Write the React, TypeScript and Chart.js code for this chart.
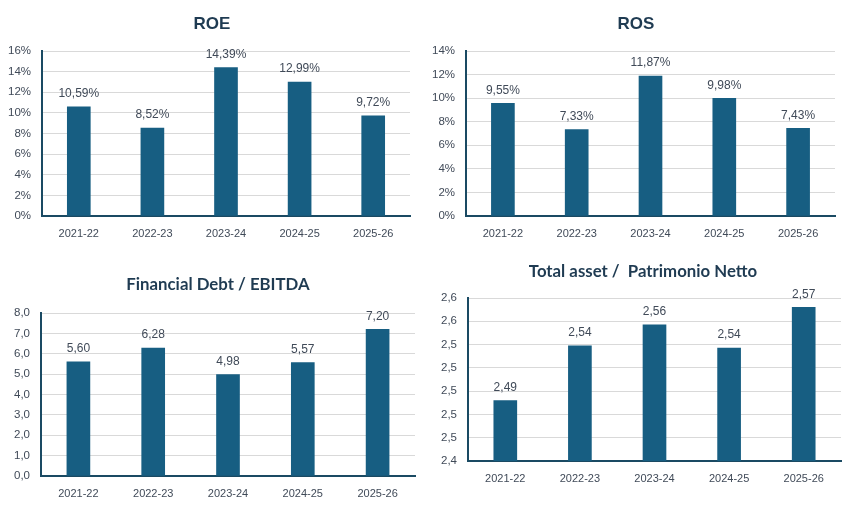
import { Chart, registerables } from 'chart.js'
import { useEffect, useRef } from 'react'

Chart.register(...registerables)

const years = ['2021-22', '2022-23', '2023-24', '2024-25', '2025-26']
const roeValues = [10.59, 8.52, 14.39, 12.99, 9.72]
const rosValues = [9.55, 7.33, 11.87, 9.98, 7.43]
const debtEbitdaValues = [5.6, 6.28, 4.98, 5.57, 7.2]
const assetEquityValues = [2.492, 2.539, 2.557, 2.537, 2.572]
// the last chart's axis steps by 0.02 but shows one decimal, as in the original
const assetEquityTicks = [2.44, 2.46, 2.48, 2.5, 2.52, 2.54, 2.56, 2.58]

const BAR = '#175E82'
const AXIS = '#1A4A63'
const TEXT = '#404A58'
const TITLE = '#1F3B52'

const comma = (v: number, d: number) => v.toFixed(d).replace('.', ',')

type PanelProps = {
  left: number
  top: number
  width: number
  height: number
  area: { l: number; r: number; t: number; b: number }
  title: string
  titleX: number
  titleY: number
  titleFont: string
  values: number[]
  yMin: number
  yMax: number
  step: number
  ticks?: number[]
  tickFmt: (v: number) => string
  valueFmt: (v: number) => string
}

function BarPanel(p: PanelProps) {
  const canvasRef = useRef<HTMLCanvasElement>(null)

  useEffect(() => {
    if (!canvasRef.current) return
    const ctx = canvasRef.current.getContext('2d')
    if (!ctx) return

    const chart = new Chart(ctx, {
      type: 'bar',
      data: {
        labels: years,
        datasets: [
          {
            data: p.values,
            backgroundColor: BAR,
            borderWidth: 0,
            barThickness: 23,
          },
        ],
      },
      options: {
        responsive: false,
        animation: false,
        events: [],
        layout: { padding: { left: 0, right: p.width - p.area.r, top: p.area.t, bottom: 0 } },
        plugins: {
          legend: { display: false },
          tooltip: { enabled: false },
          title: { display: false },
        },
        scales: {
          x: {
            grid: { display: false },
            border: { display: true, color: AXIS, width: 2 },
            ticks: { color: TEXT, font: { family: 'Liberation Sans', size: 11 }, padding: 3 },
            afterFit: (s: any) => {
              s.height = p.height - p.area.b
            },
          },
          y: {
            min: p.yMin,
            max: p.yMax,
            grid: { color: '#D9D9D9', lineWidth: 1, drawTicks: false },
            border: { display: true, color: AXIS, width: 2 },
            ticks: {
              stepSize: p.step,
              autoSkip: false,
              color: TEXT,
              font: { family: 'Liberation Sans', size: 11.5 },
              padding: 11,
              callback: (v: any) => p.tickFmt(Number(v)),
            },
            afterBuildTicks: (s: any) => {
              if (p.ticks) s.ticks = p.ticks.map((value) => ({ value }))
            },
            afterFit: (s: any) => {
              s.width = p.area.l
            },
          },
        },
      },
      plugins: [
        {
          id: 'labelsAndTitle',
          afterDatasetsDraw(c: any) {
            const g = c.ctx
            g.save()
            g.fillStyle = TEXT
            g.font = '12px "Liberation Sans"'
            g.textAlign = 'center'
            g.textBaseline = 'middle'
            c.getDatasetMeta(0).data.forEach((bar: any, i: number) => {
              g.fillText(p.valueFmt(p.values[i]), bar.x, bar.y - 13)
            })
            g.fillStyle = TITLE
            g.font = p.titleFont
            g.fillText(p.title, p.titleX, p.titleY)
            g.restore()
          },
        },
      ],
    })

    return () => {
      chart.destroy()
    }
  }, [])

  return (
    <canvas
      ref={canvasRef}
      width={p.width}
      height={p.height}
      style={{ position: 'absolute', left: p.left, top: p.top, width: p.width, height: p.height }}
    />
  )
}

export default function App() {
  return (
    <div style={{ position: 'absolute', left: 0, top: 0, width: 857, height: 520, background: '#fff' }}>
      <BarPanel
        left={0}
        top={0}
        width={428}
        height={250}
        area={{ l: 42, r: 410, t: 51, b: 216 }}
        title="ROE"
        titleX={212}
        titleY={24}
        titleFont='bold 17px "Liberation Sans"'
        values={roeValues}
        yMin={0}
        yMax={16}
        step={2}
        tickFmt={(v) => `${v}%`}
        valueFmt={(v) => `${comma(v, 2)}%`}
      />
      <BarPanel
        left={428}
        top={0}
        width={429}
        height={250}
        area={{ l: 38, r: 407, t: 51, b: 216 }}
        title="ROS"
        titleX={208}
        titleY={24}
        titleFont='bold 17px "Liberation Sans"'
        values={rosValues}
        yMin={0}
        yMax={14}
        step={2}
        tickFmt={(v) => `${v}%`}
        valueFmt={(v) => `${comma(v, 2)}%`}
      />
      <BarPanel
        left={0}
        top={260}
        width={428}
        height={260}
        area={{ l: 41, r: 415, t: 53, b: 216 }}
        title="Financial Debt / EBITDA"
        titleX={218}
        titleY={25}
        titleFont='bold 16.8px Lato'
        values={debtEbitdaValues}
        yMin={0}
        yMax={8}
        step={1}
        tickFmt={(v) => comma(v, 1)}
        valueFmt={(v) => comma(v, 2)}
      />
      <BarPanel
        left={428}
        top={260}
        width={429}
        height={260}
        area={{ l: 40, r: 413, t: 38, b: 201 }}
        title="Total asset /  Patrimonio Netto"
        titleX={215}
        titleY={12}
        titleFont='bold 16.8px Lato'
        values={assetEquityValues}
        yMin={2.44}
        yMax={2.58}
        step={0.02}
        ticks={assetEquityTicks}
        tickFmt={(v) => comma(v, 1)}
        valueFmt={(v) => comma(v, 2)}
      />
    </div>
  )
}
